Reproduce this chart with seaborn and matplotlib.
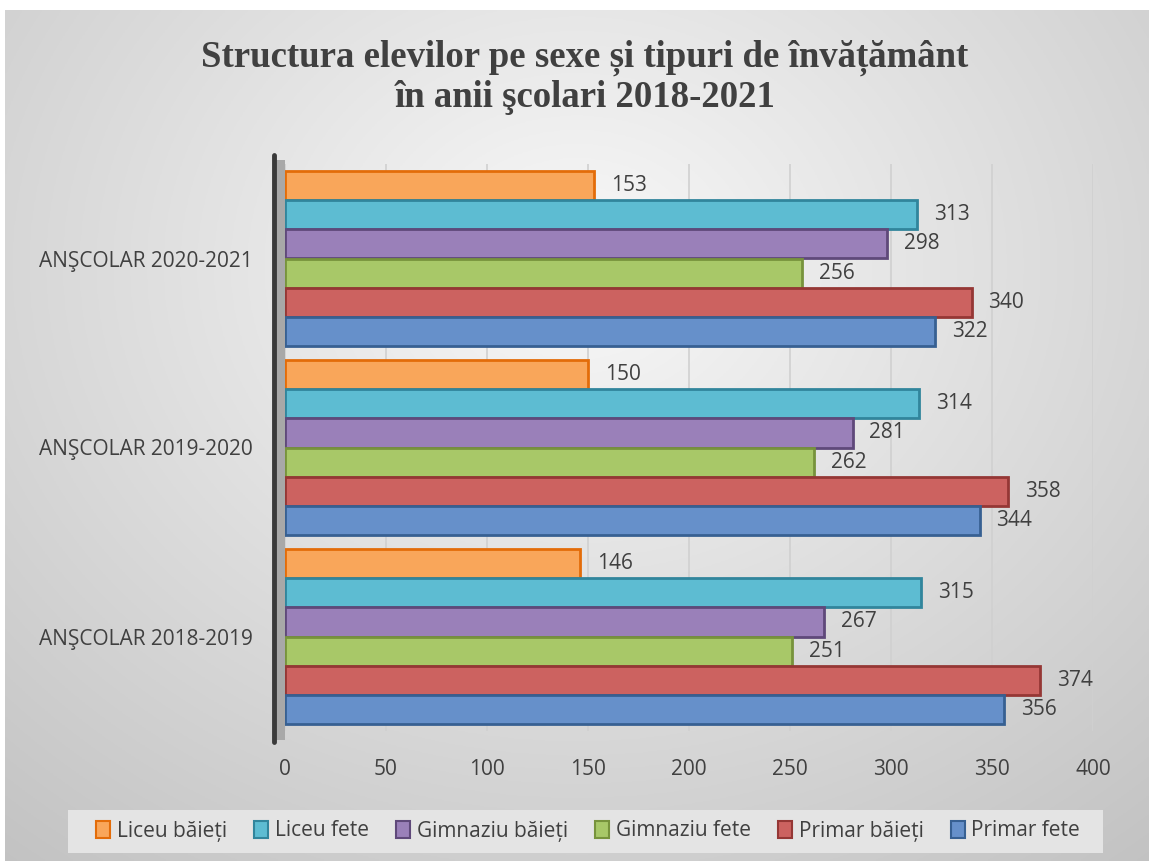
import numpy as np
import pandas as pd
import seaborn as sns
import matplotlib.pyplot as plt
from matplotlib.patches import Patch, Rectangle
from matplotlib.lines import Line2D

# data
years = ['ANŞCOLAR 2020-2021', 'ANŞCOLAR 2019-2020', 'ANŞCOLAR 2018-2019']
series = ['Liceu băieți', 'Liceu fete', 'Gimnaziu băieți', 'Gimnaziu fete', 'Primar băieți', 'Primar fete']
liceu_baieti = [153, 150, 146]
liceu_fete = [313, 314, 315]
gimnaziu_baieti = [298, 281, 267]
gimnaziu_fete = [256, 262, 251]
primar_baieti = [340, 358, 374]
primar_fete = [322, 344, 356]
xticks = [0, 50, 100, 150, 200, 250, 300, 350, 400]

fill_colors = ['#F9A65A', '#5DBCD2', '#9A80B9', '#A8C868', '#CC6260', '#6690CA']
edge_colors = ['#E36C09', '#31859C', '#5F497A', '#77933C', '#953735', '#376092']
txt = '#404040'

vals = [liceu_baieti, liceu_fete, gimnaziu_baieti, gimnaziu_fete, primar_baieti, primar_fete]
rows = []
for s, v in zip(series, vals):
    for y, n in zip(years, v):
        rows.append({'an': y, 'tip': s, 'elevi': n})
df = pd.DataFrame(rows)

sns.set_theme(style='white')
plt.rcParams['font.family'] = ['Open Sans', 'DejaVu Sans']

W, H = 1149, 861
fig = plt.figure(figsize=(W / 100, H / 100), dpi=100)
fig.patch.set_facecolor('white')

# gradient background of the chart area
bg = fig.add_axes([5 / W, 0, 1 - 5 / W, 1 - 10 / H], zorder=-5)
yy, xx = np.mgrid[0:1:300j, 0:1:400j]
r = np.sqrt(((xx - 0.5) / 0.75) ** 2 + ((yy - 0.3) / 0.85) ** 2)
g = np.clip(0.975 - 0.2 * r, 0.75, 1)
bg.imshow(np.dstack([g, g, g]), aspect='auto', extent=[0, 1, 0, 1], origin='upper')
bg.axis('off')

ax = fig.add_axes([285 / W, (H - 731) / H, (1093 - 285) / W, (731 - 164) / H])
ax.set_facecolor('none')

sns.barplot(data=df, y='an', x='elevi', hue='tip', order=years, hue_order=series,
            palette=fill_colors, orient='h', width=0.925, gap=0, legend=False, ax=ax,
            saturation=1, zorder=3)

for cont, ec in zip(ax.containers, edge_colors):
    for bar in cont:
        bar.set_edgecolor(ec)
        bar.set_linewidth(2)
    ax.bar_label(cont, padding=12, fontsize=15, color=txt)

ax.set_xlim(0, 400)
ax.set_xticks(xticks)
ax.set_xlabel('')
ax.set_ylabel('')
ax.grid(axis='x', color='#D0D0D0', linewidth=1.2, zorder=0)
ax.set_axisbelow(True)
for sp in ax.spines.values():
    sp.set_visible(False)
ax.tick_params(axis='x', pad=20, labelsize=15, labelcolor=txt, length=0)
ax.tick_params(axis='y', pad=23, labelsize=15, labelcolor=txt, length=0)

# 3D-like left wall
fig.patches.append(Rectangle((276 / W, (H - 740) / H), 9 / W, (740 - 160) / H,
                             transform=fig.transFigure, facecolor='#A8A8A8',
                             edgecolor='none', zorder=1))
fig.lines.append(Line2D([274 / W, 274 / W], [(H - 742) / H, (H - 155) / H],
                        transform=fig.transFigure, color='#3A3A3A', linewidth=3.5, zorder=2))

fig.text(585 / W, 1 - 77 / H, 'Structura elevilor pe sexe și tipuri de învățământ\nîn anii şcolari 2018-2021',
         ha='center', va='center', fontsize=26.5, fontweight='bold', color=txt,
         family=['Liberation Serif', 'DejaVu Serif'], linespacing=1.15)

# legend band
fig.patches.append(Rectangle((68 / W, (H - 853) / H), (1103 - 68) / W, 43 / H,
                             transform=fig.transFigure, facecolor='#E4E4E4',
                             edgecolor='none', zorder=1))
handles = [Patch(facecolor=f, edgecolor=e, linewidth=1.5) for f, e in zip(fill_colors, edge_colors)]
leg = fig.legend(handles, series, loc='center', bbox_to_anchor=(588 / W, (H - 831) / H),
                 ncol=6, fontsize=15, frameon=False,
                 handlelength=0.7, handleheight=0.85, handletextpad=0.3,
                 columnspacing=1.3, labelcolor=txt)

fig.savefig('out.png', dpi=100)
